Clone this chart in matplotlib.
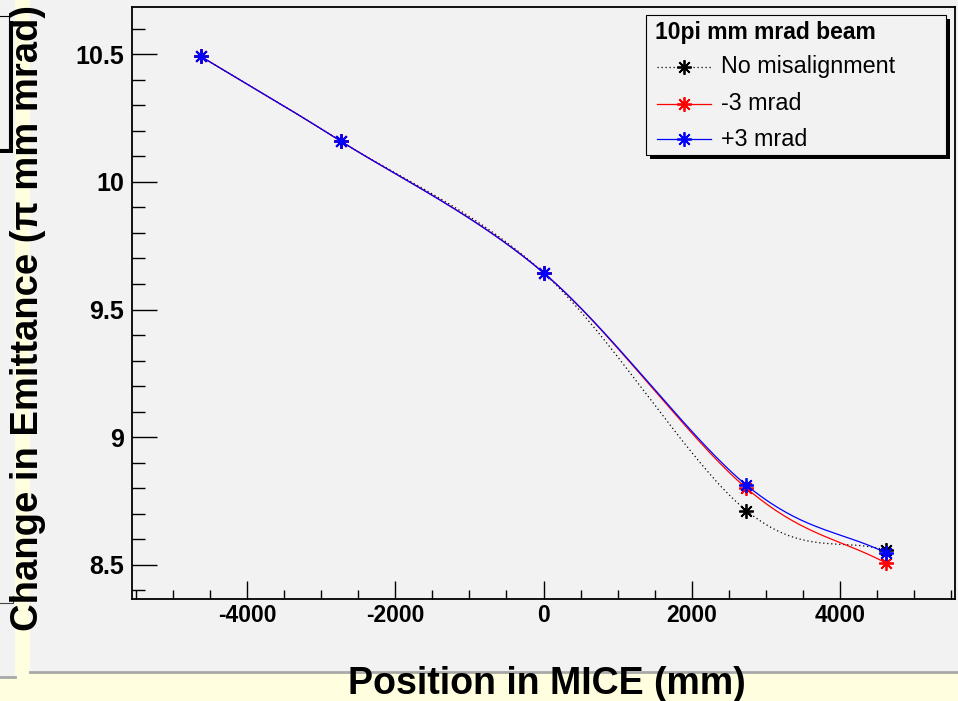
import numpy as np
import matplotlib
matplotlib.use("Agg")
import matplotlib.pyplot as plt
from matplotlib.patches import Rectangle
from matplotlib.lines import Line2D

plt.rcParams["font.family"] = ["Liberation Sans", "DejaVu Sans"]

W, H = 958, 701  # canvas size in pixels

# ---- data -----------------------------------------------------------------
positions = [-4630, -2740, 0, 2740, 4630]            # mm along MICE
emit_nominal = [10.492, 10.160, 9.644, 8.712, 8.557]  # no misalignment
emit_minus3 = [10.492, 10.160, 9.644, 8.800, 8.506]   # -3 mrad
emit_plus3 = [10.492, 10.160, 9.644, 8.812, 8.546]    # +3 mrad
series_labels = ["No misalignment", "-3 mrad", "+3 mrad"]
legend_title = "10pi mm mrad beam"
x_ticks = [-4000, -2000, 0, 2000, 4000]
y_ticks = [8.5, 9, 9.5, 10, 10.5]
x_title = "Position in MICE (mm)"
y_title = "Change in Emittance (\u03c0 mm mrad)"


def smooth_curve(x, y, n=60):
    """Catmull-Rom curve through the points (a local smoothing like ROOT's 'C')."""
    x = np.asarray(x, float)
    y = np.asarray(y, float)
    px = np.concatenate([[2 * x[0] - x[1]], x, [2 * x[-1] - x[-2]]])
    py = np.concatenate([[2 * y[0] - y[1]], y, [2 * y[-1] - y[-2]]])
    t = np.linspace(0, 1, n)
    out_x, out_y = [], []
    for i in range(1, len(px) - 2):
        for arr, out in ((px, out_x), (py, out_y)):
            p0, p1, p2, p3 = arr[i - 1], arr[i], arr[i + 1], arr[i + 2]
            seg = 0.5 * ((2 * p1) + (-p0 + p2) * t
                         + (2 * p0 - 5 * p1 + 4 * p2 - p3) * t ** 2
                         + (-p0 + 3 * p1 - 3 * p2 + p3) * t ** 3)
            out.append(seg if i == 1 else seg[1:])
    return np.concatenate(out_x), np.concatenate(out_y)


def fig_rect(x0, y0, x1, y1, **kw):
    """Rectangle given in pixel coordinates from the top-left corner."""
    return Rectangle((x0 / W, 1 - y1 / H), (x1 - x0) / W, (y1 - y0) / H,
                     transform=fig.transFigure, **kw)


def fig_line(xs, ys, **kw):
    return Line2D([x / W for x in xs], [1 - y / H for y in ys],
                  transform=fig.transFigure, **kw)


fig = plt.figure(figsize=(W / 100, H / 100), dpi=100)
fig.patch.set_facecolor("#ffffe0")

PANEL = "#f2f2f2"
BG = -10
# neighbouring pad at the far left, and the main pad (behind the axes)
fig.add_artist(fig_rect(0, 0, 15, 676, facecolor=PANEL, edgecolor="none", zorder=BG))
fig.add_artist(fig_line([0, 15], [677, 677], color="#a8a8a8", lw=2, zorder=BG))
fig.add_artist(fig_rect(-5, 149, 13, 153, facecolor="black", edgecolor="none", zorder=BG))
fig.add_artist(fig_rect(9, 21, 13, 153, facecolor="black", edgecolor="none", zorder=BG))
fig.add_artist(fig_rect(-5, 16, 9, 149, facecolor=PANEL, edgecolor="black", lw=0.8,
                        zorder=BG))
fig.add_artist(fig_line([0, 13, 13], [603, 603, 596], color="#444444", lw=0.8, zorder=BG))
fig.add_artist(fig_rect(30, 0, 958, 671, facecolor=PANEL, edgecolor="none", zorder=BG))
fig.add_artist(fig_line([30, 958], [672, 672], color="#a8a8a8", lw=2, zorder=BG))

# plot frame
ax_l, ax_r, ax_t, ax_b = 132, 955, 7, 599
ax = fig.add_axes([ax_l / W, 1 - ax_b / H, (ax_r - ax_l) / W, (ax_b - ax_t) / H])
ax.set_facecolor(PANEL)
for s in ax.spines.values():
    s.set_linewidth(1.3)
    s.set_color("black")

ax.set_xlim(-5556, 5556)
ax.set_ylim(8.366, 10.685)

marker = (8, 2, 0)
styles = [
    (emit_nominal, "black", (0, (1, 2.2)), 1),
    (emit_minus3, "red", "-", 2),
    (emit_plus3, "blue", "-", 3),
]
for vals, col, ls, z in styles:
    xs, ys = smooth_curve(positions, vals)
    ax.plot(xs, ys, color=col, lw=0.9, ls=ls, zorder=z)
    ax.plot(positions, vals, ls="none", marker=marker, ms=10.5, mew=1.3,
            color=col, zorder=z + 0.5)

# ticks
ax.set_xticks(x_ticks)
ax.set_xticklabels([f"{v:g}" for v in x_ticks])
ax.set_xticks(np.arange(-5500, 5501, 500), minor=True)
ax.set_yticks(y_ticks)
ax.set_yticklabels([f"{v:g}" for v in y_ticks])
ax.set_yticks(np.round(np.arange(8.4, 10.65, 0.1), 2), minor=True)
ax.tick_params(axis="both", which="both", direction="in", top=False, right=False,
               width=1, color="black")
ax.tick_params(axis="x", which="major", length=13, pad=3.5)
ax.tick_params(axis="x", which="minor", length=6.5)
ax.tick_params(axis="y", which="major", length=18, pad=5.5)
ax.tick_params(axis="y", which="minor", length=9)
for lab in ax.get_xticklabels():
    lab.set_fontsize(16.5)
    lab.set_fontweight("bold")
for lab in ax.get_yticklabels():
    lab.set_fontsize(18)
    lab.set_fontweight("bold")

# axis titles
fig.text(547 / W, 1 - 694 / H, x_title, ha="center", va="baseline",
         fontsize=27, fontweight="bold")
fig.text(28 / W, 1 - 5 / H, y_title, ha="center", va="top", rotation=90,
         fontsize=27.5, fontweight="bold")

# legend box with drop shadow
LG = 5
fig.add_artist(fig_rect(650, 19, 950, 159, facecolor="black", edgecolor="none", zorder=LG))
fig.add_artist(fig_rect(646, 15, 946, 155, facecolor=PANEL, edgecolor="black", lw=0.8,
                        zorder=LG + 0.1))
fig.text(655 / W, 1 - 33 / H, legend_title, ha="left", va="center",
         fontsize=16.5, fontweight="bold", zorder=LG + 1)
row_y = [67, 104, 139]
for (vals, col, ls, z), lab, ry in zip(styles, series_labels, row_y):
    fig.add_artist(fig_line([657, 711], [ry, ry], color=col, lw=0.9, ls=ls,
                            zorder=LG + 1))
    fig.add_artist(fig_line([684], [ry], color=col, ls="none", marker=marker,
                            ms=10.5, mew=1.3, zorder=LG + 1))
    fig.text(721 / W, 1 - ry / H, lab, ha="left", va="center", fontsize=16.8,
             zorder=LG + 1)

fig.savefig("out.png", dpi=100, facecolor=fig.get_facecolor())
